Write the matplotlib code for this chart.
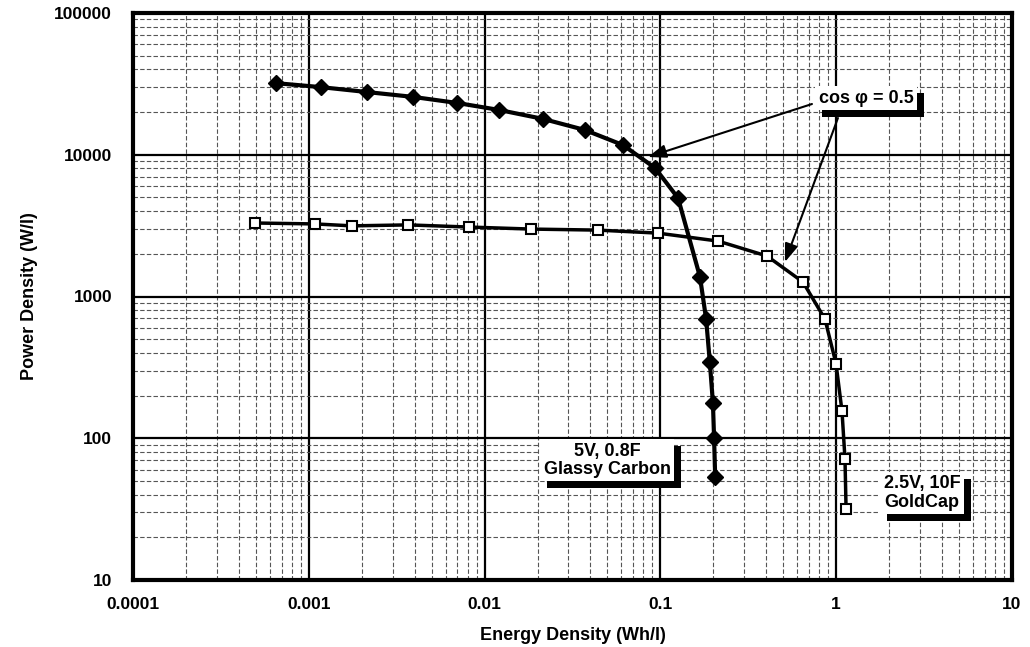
import numpy as np
import matplotlib.pyplot as plt
from matplotlib.ticker import LogLocator, FixedFormatter, FixedLocator
from matplotlib.patches import Rectangle

plt.rcParams['font.family'] = ['Liberation Sans', 'DejaVu Sans']
plt.rcParams['font.weight'] = 'bold'

# Ragone data: energy density (Wh/l) vs power density (W/l)
glassy_e = [0.00065, 0.00117, 0.00214, 0.00391, 0.00697, 0.0121, 0.0215, 0.0372,
            0.0613, 0.0932, 0.126, 0.168, 0.182, 0.191, 0.199, 0.202, 0.205]
glassy_p = [32000, 30000, 27700, 25600, 23200, 20700, 17900, 14950,
            11700, 8070, 4950, 1373, 693, 345, 177, 100, 53.3]

goldcap_e = [0.000494, 0.00109, 0.00176, 0.00367, 0.00815, 0.0184, 0.0442, 0.0969,
             0.213, 0.404, 0.647, 0.863, 0.998, 1.079, 1.122, 1.138]
goldcap_p = [3300, 3250, 3150, 3200, 3090, 2990, 2940, 2800,
             2460, 1930, 1265, 693, 335, 155, 71.4, 31.7]

x_ticks = [0.0001, 0.001, 0.01, 0.1, 1, 10]
x_labels = ['0.0001', '0.001', '0.01', '0.1', '1', '10']
y_ticks = [10, 100, 1000, 10000, 100000]
y_labels = ['10', '100', '1000', '10000', '100000']

fig = plt.figure(figsize=(10.3, 6.47), dpi=100)
ax = fig.add_axes([133 / 1030, 1 - 580 / 647, (1012 - 133) / 1030, (580 - 13) / 647])
ax.set_xscale('log')
ax.set_yscale('log')
ax.set_xlim(0.0001, 10)
ax.set_ylim(10, 100000)

ax.xaxis.set_major_locator(FixedLocator(x_ticks))
ax.xaxis.set_major_formatter(FixedFormatter(x_labels))
ax.yaxis.set_major_locator(FixedLocator(y_ticks))
ax.yaxis.set_major_formatter(FixedFormatter(y_labels))
ax.xaxis.set_minor_locator(LogLocator(base=10, subs=np.arange(2, 10), numticks=20))
ax.yaxis.set_minor_locator(LogLocator(base=10, subs=np.arange(2, 10), numticks=20))
ax.tick_params(which='both', length=0)
ax.tick_params(which='major', labelsize=12.5, pad=12)
ax.tick_params(axis='y', which='major', pad=15)

ax.grid(which='major', color='black', linewidth=1.6)
ax.grid(which='minor', color='#555555', linewidth=0.8, linestyle=(0, (4, 2)))
ax.set_axisbelow(True)
for s in ax.spines.values():
    s.set_linewidth(3)

ax.plot(glassy_e, glassy_p, color='black', linewidth=3, marker='D',
        markersize=8, markerfacecolor='black', zorder=3)
ax.plot(goldcap_e, goldcap_p, color='black', linewidth=2.5, marker='s',
        markersize=7.5, markerfacecolor='white', markeredgewidth=1.5, zorder=4)

ax.set_xlabel('Energy Density (Wh/l)', fontsize=13, fontweight='bold', labelpad=11)
ax.set_ylabel('Power Density (W/l)', fontsize=13, fontweight='bold', labelpad=12)

labels = []
for x, y, text, ha in [(1.479, 25100, 'cos φ = 0.5', 'center'),
                       (0.0497, 70, '5V, 0.8F\nGlassy Carbon', 'center'),
                       (1.87, 41.1, '2.5V, 10F\nGoldCap', 'left')]:
    t = ax.text(x, y, text, ha=ha, va='center', fontsize=13, fontweight='bold',
                color='black', linespacing=1.1, zorder=6, multialignment=ha,
                bbox=dict(boxstyle='square,pad=0.2', fc='white', ec='none'))
    labels.append(t)

arrow = dict(arrowstyle='-|>,head_length=1.1,head_width=0.4', color='black',
             linewidth=1.5, shrinkA=0, shrinkB=0)
ax.annotate('', xy=(0.0849, 9640), xytext=(0.728, 22800), arrowprops=arrow, zorder=4)
ax.annotate('', xy=(0.511, 1750), xytext=(1.023, 18160), arrowprops=arrow, zorder=4)

# drop shadow behind each label box, shifted right and down
fig.canvas.draw()
to_axes = ax.transAxes.inverted()
for t in labels:
    bb = t.get_bbox_patch().get_window_extent()
    (x0, y0), (x1, y1) = to_axes.transform([(bb.x0 + 7, bb.y0 - 7), (bb.x1 + 7, bb.y1 - 7)])
    ax.add_patch(Rectangle((x0, y0), x1 - x0, y1 - y0, transform=ax.transAxes,
                           fc='black', ec='none', zorder=5, clip_on=False))

fig.savefig('out.png', dpi=100)
